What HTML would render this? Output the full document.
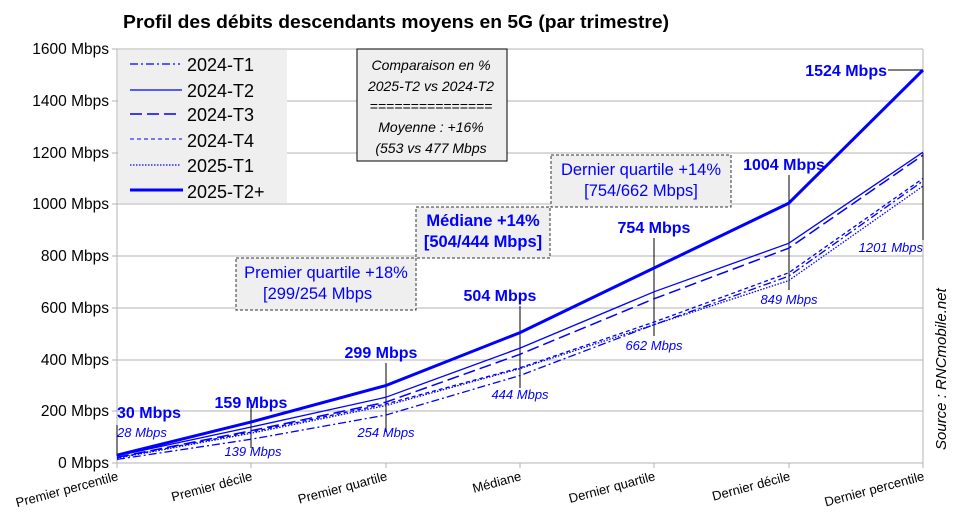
<!DOCTYPE html>
<html><head><meta charset="utf-8"><style>
body{margin:0;background:#fff;}
svg{display:block;font-family:"Liberation Sans",sans-serif;}
</style></head><body>
<svg width="956" height="523" viewBox="0 0 956 523">
<text x="123" y="28" font-size="18" font-weight="bold" fill="#000" textLength="546" lengthAdjust="spacingAndGlyphs">Profil des débits descendants moyens en 5G (par trimestre)</text>
<g stroke="#b3b3b3" stroke-width="1">
<line x1="117" y1="49" x2="923" y2="49"/><line x1="117" y1="101" x2="923" y2="101"/>
<line x1="117" y1="153" x2="923" y2="153"/><line x1="117" y1="204" x2="923" y2="204"/>
<line x1="117" y1="256" x2="923" y2="256"/><line x1="117" y1="308" x2="923" y2="308"/>
<line x1="117" y1="360" x2="923" y2="360"/><line x1="117" y1="411" x2="923" y2="411"/>
<line x1="117" y1="463" x2="923" y2="463"/>
<line x1="117" y1="49" x2="117" y2="468"/><line x1="923" y1="49" x2="923" y2="468"/>
<line x1="251" y1="463" x2="251" y2="468"/><line x1="386" y1="463" x2="386" y2="468"/><line x1="520" y1="463" x2="520" y2="468"/><line x1="654" y1="463" x2="654" y2="468"/><line x1="789" y1="463" x2="789" y2="468"/>
<line x1="112" y1="49" x2="117" y2="49"/><line x1="112" y1="101" x2="117" y2="101"/><line x1="112" y1="153" x2="117" y2="153"/><line x1="112" y1="204" x2="117" y2="204"/><line x1="112" y1="256" x2="117" y2="256"/><line x1="112" y1="308" x2="117" y2="308"/><line x1="112" y1="360" x2="117" y2="360"/><line x1="112" y1="411" x2="117" y2="411"/><line x1="112" y1="463" x2="117" y2="463"/>
</g>
<g font-size="15.5" fill="#000" text-anchor="end">
<text x="109" y="54">1600 Mbps</text><text x="109" y="106">1400 Mbps</text><text x="109" y="158">1200 Mbps</text><text x="109" y="209">1000 Mbps</text><text x="109" y="261">800 Mbps</text><text x="109" y="313">600 Mbps</text><text x="109" y="365">400 Mbps</text><text x="109" y="416">200 Mbps</text><text x="109" y="468">0 Mbps</text>
</g>
<g font-size="13" fill="#000" text-anchor="end">
<text transform="translate(119,480) rotate(-15)">Premier percentile</text>
<text transform="translate(253,480) rotate(-15)">Premier décile</text>
<text transform="translate(388,480) rotate(-15)">Premier quartile</text>
<text transform="translate(522,480) rotate(-15)">Médiane</text>
<text transform="translate(656,480) rotate(-15)">Dernier quartile</text>
<text transform="translate(791,480) rotate(-15)">Dernier décile</text>
<text transform="translate(925,480) rotate(-15)">Dernier percentile</text>
</g>
<g stroke="#000" stroke-width="1">
<line x1="117" y1="425" x2="117" y2="456"/>
<line x1="251" y1="400" x2="251" y2="448"/>
<line x1="386" y1="363" x2="386" y2="432"/>
<line x1="520" y1="306" x2="520" y2="388"/>
<line x1="654" y1="238" x2="654" y2="336"/>
<line x1="789" y1="175" x2="789" y2="290"/>
<line x1="888" y1="70" x2="923" y2="70"/>
<line x1="923" y1="153" x2="923" y2="240"/>
</g>
<g fill="none" stroke="#0000ff">
<polyline stroke-width="1.3" stroke-dasharray="8,3,2,3" points="117,459.4 251.3,439.2 385.7,415.1 520,375.5 654.3,324.6 788.7,276.2 923,181"/>
<polyline stroke-width="1.3" stroke-dasharray="4,3" points="117,457.8 251.3,432 385.7,404 520,367.8 654.3,322 788.7,272.8 923,178.4"/>
<polyline stroke-width="1.3" stroke-dasharray="1.5,1.5" points="117,458.3 251.3,433.2 385.7,405.6 520,368.6 654.3,324.6 788.7,280.6 923,186.1"/>
<polyline stroke-width="1.5" stroke-dasharray="12,5" points="117,457.3 251.3,430.7 385.7,402.2 520,354.3 654.3,298.7 788.7,248.2 923,155.1"/>
<polyline stroke-width="1.3" points="117,455.8 251.3,427 385.7,397.3 520,348.1 654.3,291.7 788.7,243.3 923,152.2"/>
<polyline stroke-width="3" points="117,455.2 251.3,421.9 385.7,385.6 520,332.6 654.3,267.9 788.7,203.2 923,70"/>
</g>
<g fill="#0000ff" font-weight="bold" font-size="16">
<text x="117" y="418">30 Mbps</text>
<text x="251" y="408" text-anchor="middle">159 Mbps</text>
<text x="381" y="358" text-anchor="middle">299 Mbps</text>
<text x="500" y="301" text-anchor="middle">504 Mbps</text>
<text x="654" y="233" text-anchor="middle">754 Mbps</text>
<text x="784" y="170" text-anchor="middle">1004 Mbps</text>
<text x="887" y="76" text-anchor="end">1524 Mbps</text>
</g>
<g fill="#0000ff" font-style="italic" font-size="13">
<text x="117" y="437">28 Mbps</text>
<text x="253" y="456" text-anchor="middle">139 Mbps</text>
<text x="386" y="437" text-anchor="middle">254 Mbps</text>
<text x="520" y="399" text-anchor="middle">444 Mbps</text>
<text x="654" y="350" text-anchor="middle">662 Mbps</text>
<text x="789" y="304" text-anchor="middle">849 Mbps</text>
<text x="923" y="252" text-anchor="end">1201 Mbps</text>
</g>
<rect x="118" y="50" width="169" height="153" fill="#efefef"/>
<g stroke="#0000ff" fill="none">
<line x1="130" y1="64" x2="180" y2="64" stroke-width="1.3" stroke-dasharray="8,3,2,3"/>
<line x1="130" y1="90" x2="182" y2="90" stroke-width="1.3"/>
<line x1="130" y1="114" x2="180" y2="114" stroke-width="1.5" stroke-dasharray="12,5"/>
<line x1="130" y1="139" x2="182" y2="139" stroke-width="1" stroke-dasharray="4,3"/>
<line x1="130" y1="165" x2="181" y2="165" stroke-width="1.3" stroke-dasharray="1.5,1.5"/>
<line x1="130" y1="190" x2="183" y2="190" stroke-width="3"/>
</g>
<g font-size="18" fill="#000">
<text x="187" y="71">2024-T1</text><text x="187" y="97">2024-T2</text><text x="187" y="121">2024-T3</text><text x="187" y="147">2024-T4</text><text x="187" y="172">2025-T1</text><text x="187" y="198">2025-T2+</text>
</g>
<rect x="357" y="49" width="150" height="112" fill="#efefef" stroke="#000" stroke-width="1"/>
<g font-size="14" font-style="italic" fill="#000" text-anchor="middle">
<text x="431" y="70">Comparaison en %</text>
<text x="431" y="91">2025-T2 vs 2024-T2</text>
<text x="431" y="111">===============</text>
<text x="431" y="132">Moyenne : +16%</text>
<text x="431" y="153">(553 vs 477 Mbps</text>
</g>
<g fill="#efefef" stroke="#333" stroke-width="1" stroke-dasharray="3,2">
<rect x="236" y="258" width="180" height="52"/>
<rect x="416" y="207" width="134" height="51"/>
<rect x="551" y="155" width="180" height="52"/>
</g>
<g fill="#0000ff" font-size="16.5">
<text x="326" y="278" text-anchor="middle">Premier quartile +18%</text>
<text x="263" y="299">[299/254 Mbps</text>
<text x="483" y="226" text-anchor="middle" font-weight="bold">Médiane +14%</text>
<text x="483" y="247" text-anchor="middle" font-weight="bold">[504/444 Mbps]</text>
<text x="641" y="175" text-anchor="middle">Dernier quartile +14%</text>
<text x="641" y="196" text-anchor="middle">[754/662 Mbps]</text>
</g>
<text transform="translate(946,450) rotate(-90)" font-size="15" font-style="italic" fill="#000">Source : RNCmobile.net</text>
</svg>
</body></html>
